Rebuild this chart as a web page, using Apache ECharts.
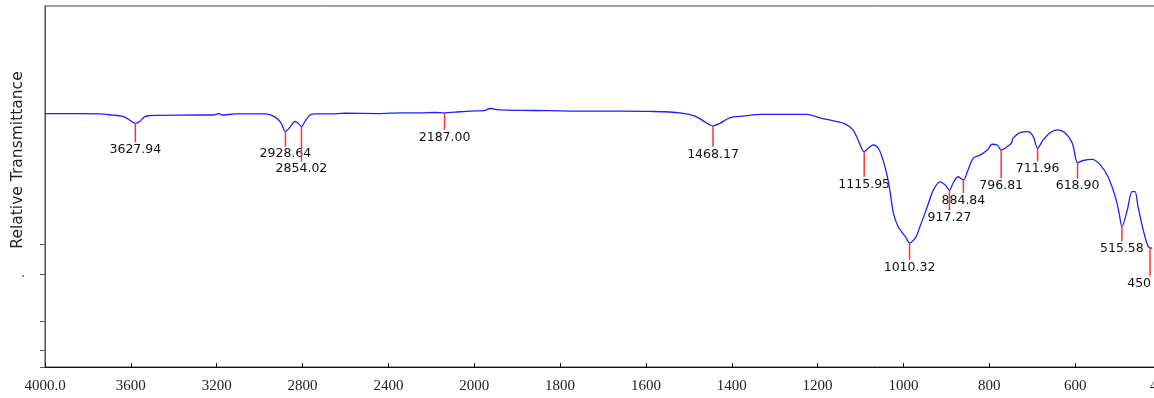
<!DOCTYPE html>
<html>
<head>
<meta charset="utf-8">
<script src="https://cdn.jsdelivr.net/npm/echarts@6/dist/echarts.min.js"></script>
<style>
  html, body { margin: 0; padding: 0; background: #fff; }
  #chart { width: 1154px; height: 398px; }
</style>
</head>
<body>
<div id="chart"></div>
<script>
// ---- Data ----
const tickLabels = ['4000.0','3600','3200','2800','2400','2000','1800','1600','1400','1200','1000','800','600','400'];

const wavenumbers = [
  4050, 3886, 3793, 3737, 3690, 3662, 3627.94, 3606, 3588, 3569, 3513, 3327, 3266, 3238, 3224, 3164, 3024,
  2977, 2949, 2928.64, 2907, 2884, 2870, 2854.02, 2837, 2814, 2791, 2721, 2651, 2488, 2395, 2302, 2232,
  2187, 2138, 2068, 2003, 1988, 1964, 1918, 1848, 1778, 1685, 1615, 1545, 1510, 1487, 1468.17, 1452,
  1435, 1421, 1398, 1358, 1249, 1219, 1188, 1160, 1142, 1130, 1115.95, 1107, 1095, 1083, 1072, 1062,
  1055, 1048, 1037, 1020, 1010.32, 997, 986, 969, 955, 939, 927, 917.27, 909, 897, 884.84, 874, 862,
  846, 829, 818, 806, 796.81, 783, 773, 769, 753, 734, 722, 711.96, 699, 683, 666, 648, 631, 618.9,
  606, 585, 566, 548, 531, 522, 515.58, 503, 492, 485, 478, 466, 454, 445
];
const transmittance = [
  70.2, 70.2, 70.1, 69.8, 69.5, 68.7, 67.5, 68.1, 69.2, 69.6, 69.7, 69.8, 69.8, 70.2, 69.8, 70.1, 70.1,
  69.2, 67.6, 65.2, 66.5, 68.0, 67.6, 66.6, 68.1, 69.8, 70.1, 70.1, 70.3, 70.2, 70.4, 70.4, 70.5,
  70.4, 70.6, 70.9, 71.0, 71.6, 71.2, 71.1, 71.0, 70.9, 70.9, 70.8, 70.4, 69.5, 67.9, 66.8, 67.5,
  68.7, 69.3, 69.5, 70.0, 70.0, 69.0, 68.2, 67.3, 65.7, 62.9, 59.6, 60.6, 61.5, 60.6, 57.3, 52.7,
  48.1, 42.6, 38.9, 36.1, 34.4, 35.7, 38.9, 44.4, 49.0, 51.3, 50.4, 49.0, 50.9, 52.7, 51.8, 54.6, 57.8,
  58.7, 60.1, 61.7, 61.5, 60.1, 61.0, 62.0, 63.4, 64.9, 65.2, 63.8, 60.6, 62.9, 64.9, 65.7, 64.9, 62.0, 56.6,
  57.2, 57.5, 56.0, 52.7, 47.2, 42.6, 38.9, 43.5, 48.6, 48.6, 44.4, 38.0, 33.3, 32.9
];

const peakWn = [3627.94, 2928.64, 2854.02, 2187.00, 1468.17, 1115.95, 1010.32, 917.27, 884.84, 796.81, 711.96, 618.90, 515.58, 450];
const peakT = [67.5, 65.2, 66.6, 70.4, 66.8, 59.6, 34.4, 49.0, 51.8, 60.1, 60.6, 56.6, 38.9, 32.9];
const peakLabels = ['3627.94','2928.64','2854.02','2187.00','1468.17','1115.95','1010.32','917.27','884.84','796.81','711.96','618.90','515.58','450'];

const yTickValues = [0, 4.52, 12.74, 25.68, 34.0];
const yLabelValues = [25.68];
const yAxisTitle = 'Relative Transmittance';

// ---- Styling / layout ----
const peakLineLen = [19, 15, 35, 17, 21, 25, 17, 20, 13, 28, 13, 16, 15, 28];
const peakLabelAlign = ['center','center','center','center','center','center','center','center','center','center','center','center','center','right'];
const curveShift = 10.5 / 85.83;

// split-scale IR axis: 4000-2000 at 400 per tick, 2000-400 at 200 per tick
function toAxisPos(w) { return w >= 2000 ? (4000 - w) / 400 : 5 + (2000 - w) / 200; }

const curveData = wavenumbers.map((w, i) => [toAxisPos(w), transmittance[i]]);
const peakData = peakWn.map((w, i) => [toAxisPos(w), peakT[i], i]);

const chart = echarts.init(document.getElementById('chart'), null, { renderer: 'canvas' });
chart.setOption({
  animation: false,
  backgroundColor: '#ffffff',
  grid: {
    left: 45, top: 6, width: 1116, height: 361,
    containLabel: false, outerBoundsMode: 'none',
    show: true, borderColor: '#444', borderWidth: 1, backgroundColor: 'transparent'
  },
  xAxis: [
    {
      type: 'value', min: 0, max: 13, interval: 1, position: 'bottom',
      axisLine: { show: true, onZero: false, lineStyle: { color: '#111', width: 1 } },
      axisTick: { show: true, inside: true, length: 4, lineStyle: { color: '#111' } },
      axisLabel: {
        formatter: v => tickLabels[Math.round(v)] ?? '',
        fontFamily: 'Liberation Serif', fontSize: 15, color: '#222', margin: 12,
        showMinLabel: true, showMaxLabel: true, hideOverlap: false
      },
      splitLine: { show: false }
    },
    { type: 'value', min: -curveShift, max: 13 - curveShift, show: false, position: 'top' }
  ],
  yAxis: {
    type: 'value', min: 0, max: 100,
    axisLine: { show: true, onZero: false, lineStyle: { color: '#555' } },
    axisTick: { show: true, length: 5, customValues: yTickValues, lineStyle: { color: '#555' } },
    axisLabel: { show: true, customValues: yLabelValues, formatter: () => '.', margin: 20, fontSize: 12, color: '#222', fontFamily: 'DejaVu Sans' },
    splitLine: { show: false }
  },
  graphic: [{
    type: 'text', x: 18, y: 160, rotation: Math.PI / 2,
    style: { text: yAxisTitle, font: '15.5px "DejaVu Sans"', fill: '#222', align: 'center', verticalAlign: 'middle', textAlign: 'center', textVerticalAlign: 'middle' }
  }],
  series: [
    {
      type: 'line', xAxisIndex: 1, data: curveData, showSymbol: false, symbol: 'none',
      smooth: 0.3, clip: true, silent: true,
      lineStyle: { color: '#1f1fff', width: 1.3 }
    },
    {
      type: 'custom', xAxisIndex: 1, data: peakData, clip: false, silent: true, z: 3,
      renderItem: (params, api) => {
        const i = api.value(2);
        const p = api.coord([api.value(0), api.value(1)]);
        const len = peakLineLen[i];
        const align = peakLabelAlign[i];
        return {
          type: 'group',
          children: [
            {
              type: 'text', z2: 1,
              x: align === 'right' ? p[0] + 1 : p[0], y: p[1] + len + 7.5,
              style: { text: peakLabels[i], font: '12.5px "DejaVu Sans"', fill: '#111', align: align, verticalAlign: 'middle' }
            },
            {
              type: 'line', z2: 10,
              shape: { x1: p[0], y1: p[1], x2: p[0], y2: p[1] + len },
              style: { stroke: '#ff3333', lineWidth: 1.5 }
            }
          ]
        };
      }
    }
  ]
});
</script>
</body>
</html>
